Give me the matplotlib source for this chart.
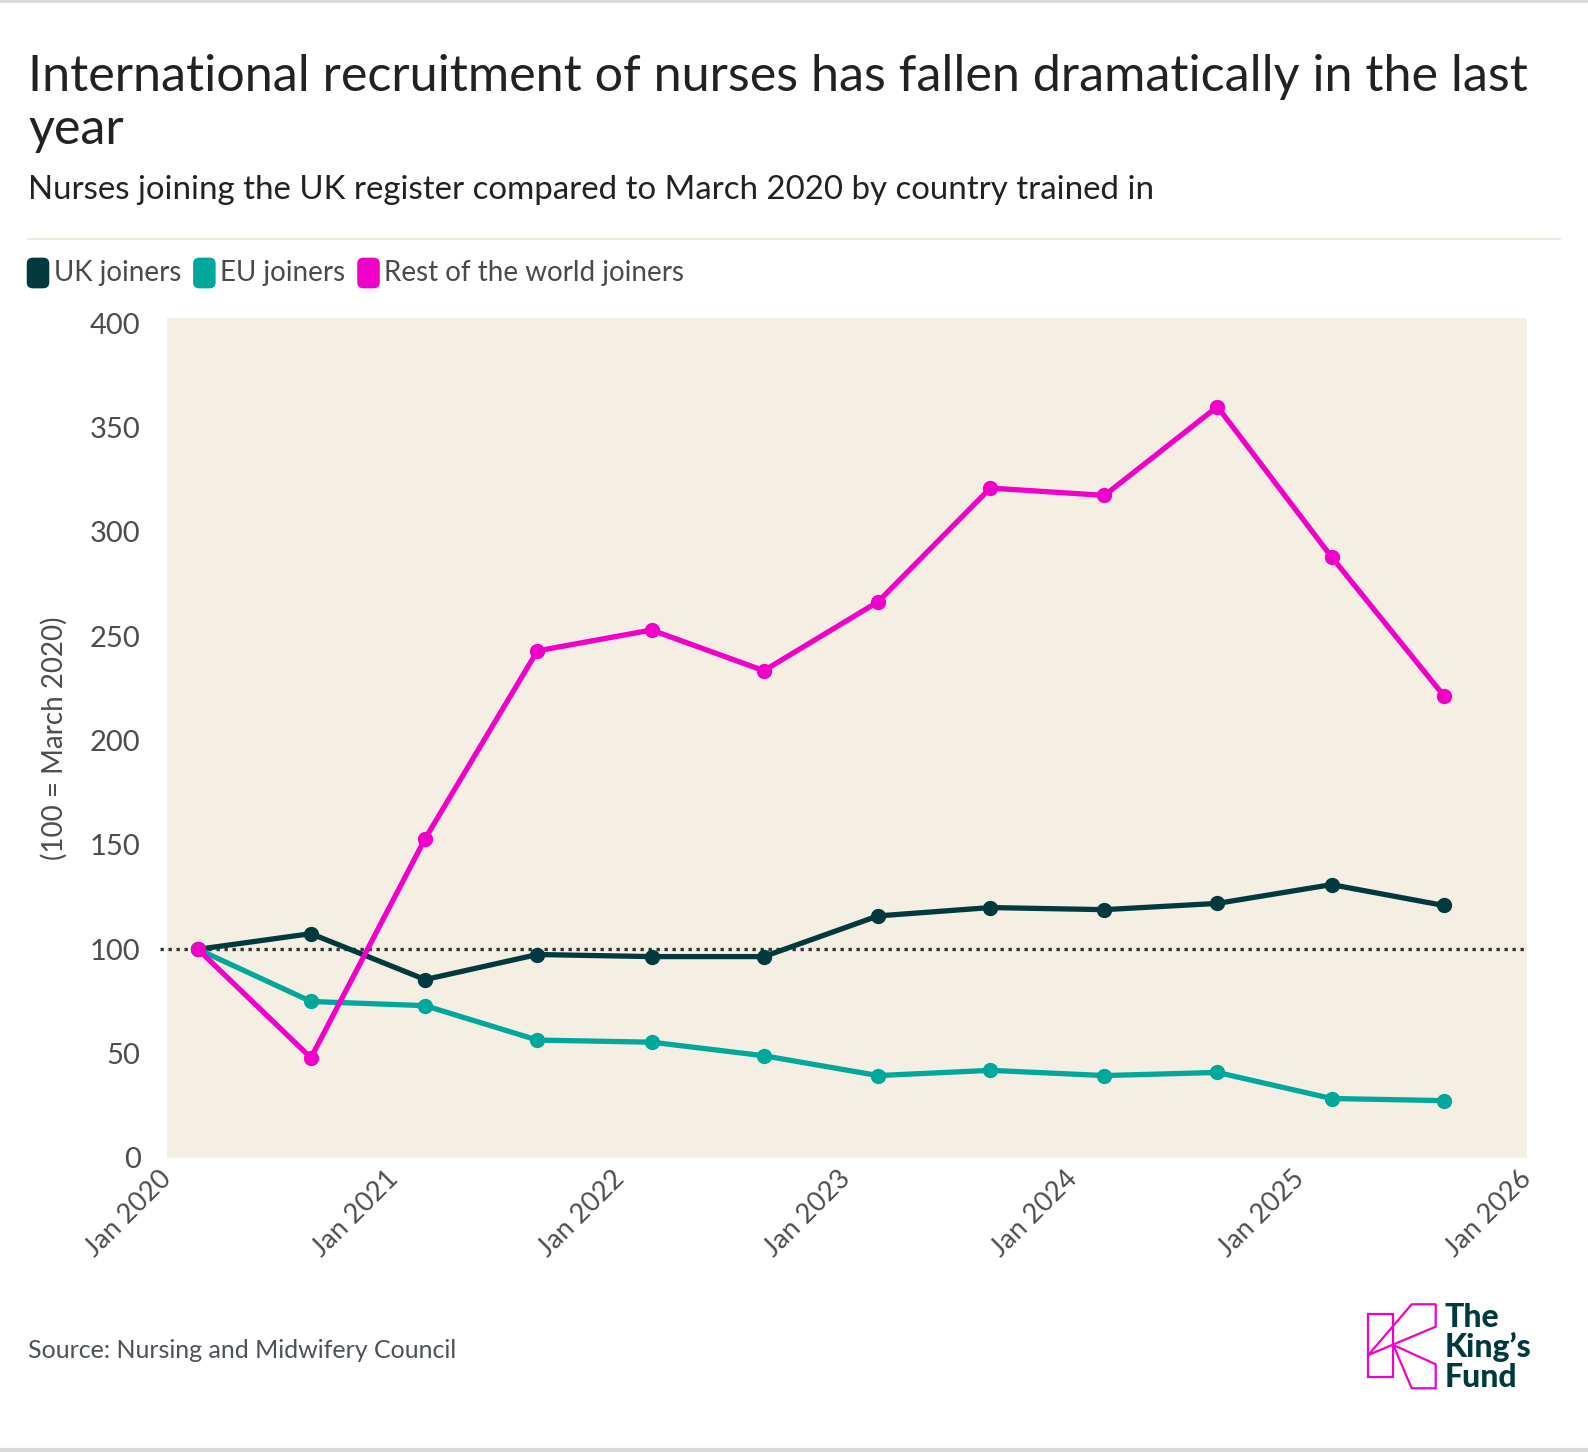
import matplotlib
matplotlib.use("Agg")
import matplotlib.pyplot as plt
from matplotlib.patches import FancyBboxPatch, Rectangle
import pandas as pd

# data (index, 100 = March 2020)
dates = pd.to_datetime([
    "2020-02-20", "2020-08-20", "2021-02-20", "2021-08-20",
    "2022-02-20", "2022-08-20", "2023-02-20", "2023-08-20",
    "2024-02-20", "2024-08-20", "2025-02-20", "2025-08-20",
])
uk_joiners = [100, 107.5, 85.5, 97.5, 96.5, 96.5, 116, 120, 119, 122, 131, 121]
eu_joiners = [100, 75, 73, 56.5, 55.5, 49, 39.5, 42, 39.5, 41, 28.5, 27.5]
row_joiners = [100, 48, 153, 243, 253, 233.5, 266.5, 321, 317.5, 360, 288, 221.5]

series_names = ["UK joiners", "EU joiners", "Rest of the world joiners"]
series_colors = ["#003a3e", "#00a79b", "#f000c8"]

x_ticks = pd.to_datetime(["2020-01-01", "2021-01-01", "2022-01-01",
                          "2023-01-01", "2024-01-01", "2025-01-01", "2026-01-01"])
x_tick_labels = ["Jan 2020", "Jan 2021", "Jan 2022", "Jan 2023",
                 "Jan 2024", "Jan 2025", "Jan 2026"]
y_ticks = [0, 50, 100, 150, 200, 250, 300, 350, 400]
baseline_value = 100

W, H = 1588, 1452
plt.rcParams["font.family"] = ["Lato", "DejaVu Sans"]


def fx(px):
    return px / W


def fy(py):
    return 1 - py / H


fig = plt.figure(figsize=(W / 100, H / 100), dpi=100)
fig.patch.set_facecolor("white")

# plot area
ax = fig.add_axes([fx(167), fy(1158), fx(1527) - fx(167), fy(318) - fy(1158)])
ax.set_facecolor("#f5efe3")
for s in ax.spines.values():
    s.set_visible(False)

all_series = [uk_joiners, eu_joiners, row_joiners]
for vals, name, col in zip(all_series, series_names, series_colors):
    ax.plot(dates, vals, color=col, lw=3.8, marker="o", ms=10,
            label=name, zorder=3, solid_capstyle="round")

ax.axhline(baseline_value, xmin=-0.005, xmax=0.9985, color="#333333", lw=2.4,
           ls=(0, (1, 1.4)), zorder=2, clip_on=False)

ax.set_xlim(pd.Timestamp("2020-01-01"), pd.Timestamp("2026-01-01"))
ax.set_ylim(0, 402.5)
ax.set_yticks(y_ticks)
ax.set_yticklabels([str(v) for v in y_ticks])
ax.set_xticks(x_ticks)
ax.set_xticklabels(x_tick_labels, rotation=45, ha="right", va="center",
                   rotation_mode="anchor")
ax.tick_params(axis="both", length=0, labelcolor="#4d4d4d")
ax.tick_params(axis="y", pad=19, labelsize=21)
ax.tick_params(axis="x", pad=12, labelsize=19.5)
ax.set_ylabel("(100 = March 2020)", fontsize=20, color="#4d4d4d", labelpad=16)

# header
fig.text(fx(28), fy(91), "International recruitment of nurses has fallen dramatically in the last",
         fontsize=36.2, color="#222222", va="baseline")
fig.text(fx(28), fy(144), "year", fontsize=36.2, color="#222222", va="baseline")
fig.text(fx(28), fy(199), "Nurses joining the UK register compared to March 2020 by country trained in",
         fontsize=23.8, color="#222222", va="baseline")
fig.add_artist(plt.Line2D([fx(28), fx(1560)], [fy(239), fy(239)], color="#efe9dc", lw=1.5))

# legend, laid out left to right
fig.canvas.draw()
renderer = fig.canvas.get_renderer()
x = 28.5
for name, col in zip(series_names, series_colors):
    box = FancyBboxPatch((fx(x + 3), fy(284)), fx(13), fy(262) - fy(284),
                         boxstyle="round,pad=0.003,rounding_size=0.004",
                         transform=fig.transFigure, facecolor=col, edgecolor="none")
    fig.add_artist(box)
    t = fig.text(fx(x + 25), fy(281), name, fontsize=20, color="#4a4a4a", va="baseline")
    w = t.get_window_extent(renderer).width
    x = x + 25 + w + 14

# source
fig.text(fx(28), fy(1358), "Source: Nursing and Midwifery Council", fontsize=18,
         color="#4d5259", va="baseline")

# top / bottom rules
fig.add_artist(plt.Line2D([0, 1], [fy(1), fy(1)], color="#d9d9d9", lw=2))
fig.add_artist(plt.Line2D([0, 1], [fy(1450), fy(1450)], color="#d9d9d9", lw=3))

# logo, drawn in pixel units
lax = fig.add_axes([fx(1360), fy(1395), fx(1540) - fx(1360), fy(1295) - fy(1395)])
lax.set_xlim(1360, 1540)
lax.set_ylim(1395, 1295)
lax.axis("off")
mag = "#f000c8"
lax.add_patch(Rectangle((1367.7, 1314.3), 25.6, 62.4, fill=False, ec=mag, lw=1.6))
lax.plot([1368.3, 1411.7, 1435.7, 1435.7, 1368.3],
         [1355, 1304.3, 1304.3, 1326.7, 1355], color=mag, lw=1.6)
lax.plot([1393.3, 1435.7, 1435.7, 1411.7, 1393.3],
         [1345, 1364.3, 1388.3, 1388.3, 1345], color=mag, lw=1.6)
for i, word in enumerate(["The", "King\u2019s", "Fund"]):
    lax.text(1445, 1327 + i * 30, word, fontsize=23, fontweight="black",
             color="#003a3e", va="baseline", ha="left")

fig.savefig("out.png", dpi=100, facecolor="white")
